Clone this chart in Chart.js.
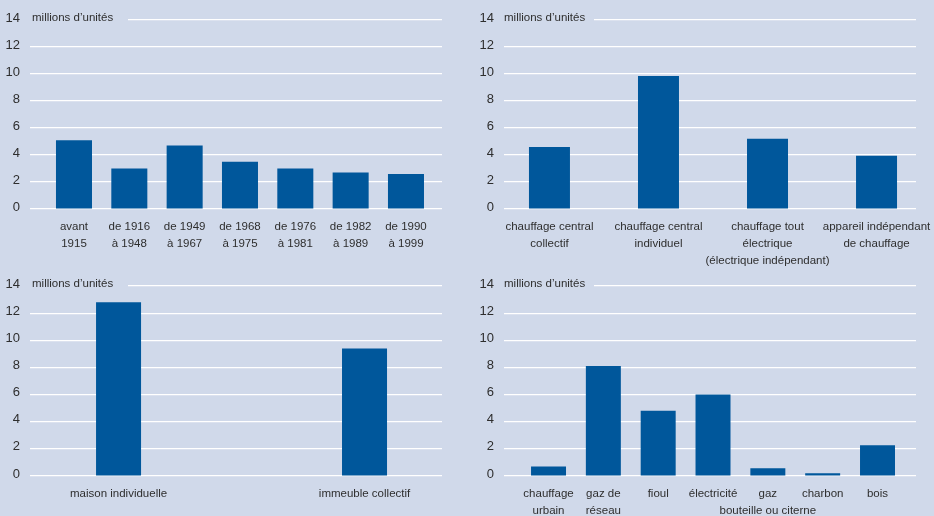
<!DOCTYPE html>
<html lang="fr">
<head>
<meta charset="utf-8">
<title>Logements</title>
<script src="https://cdn.jsdelivr.net/npm/chart.js@4.4.1/dist/chart.umd.min.js"></script>
<style>
  html, body { margin: 0; padding: 0; }
  #wrap { position: relative; width: 934px; height: 516px; background: #d0d9ea; overflow: hidden; }
  #wrap canvas { position: absolute; left: 0; top: 0; }
</style>
</head>
<body>
<div id="wrap">
  <canvas id="periodChart" width="934" height="516"></canvas>
  <canvas id="heatingChart" width="934" height="516"></canvas>
  <canvas id="buildingChart" width="934" height="516"></canvas>
  <canvas id="fuelChart" width="934" height="516"></canvas>
</div>
<script>
// Data (millions d'unités)
const unitText = "millions d\u2019unités";
const yTicks = [0, 2, 4, 6, 8, 10, 12, 14];

const periodLabels = [
  ["avant", "1915"], ["de 1916", "à 1948"], ["de 1949", "à 1967"], ["de 1968", "à 1975"],
  ["de 1976", "à 1981"], ["de 1982", "à 1989"], ["de 1990", "à 1999"]
];
const periodValues = [5.1, 3.0, 4.7, 3.5, 3.0, 2.7, 2.6];

const heatingLabels = [
  ["chauffage central", "collectif"],
  ["chauffage central", "individuel"],
  ["chauffage tout", "électrique", "(électrique indépendant)"],
  ["appareil indépendant", "de chauffage"]
];
const heatingValues = [4.6, 9.85, 5.2, 3.95];

const buildingLabels = ["maison individuelle", "immeuble collectif"];
const buildingValues = [12.8, 9.4];

const fuelLabels = [
  ["chauffage", "urbain"], ["gaz de", "réseau"], "fioul", "électricité",
  ["gaz", "bouteille ou citerne"], "charbon", "bois"
];
const fuelValues = [0.7, 8.1, 4.8, 6.0, 0.57, 0.2, 2.27];

const BG = "#d0d9ea";
const BAR = "#00579b";
const TEXT = "#2e2e2e";
const FONT = "'Liberation Sans', Arial, sans-serif";

// unit label sitting on the top gridline, with the line cut away behind it
const unitLabel = {
  id: "unitLabel",
  beforeDatasetsDraw(chart, args, opts) {
    const { ctx, chartArea } = chart;
    const y = chart.scales.y.getPixelForValue(yTicks[yTicks.length - 1]);
    ctx.save();
    ctx.fillStyle = BG;
    ctx.fillRect(chartArea.left, y - 3, opts.gap, 6);
    ctx.font = "11.5px " + FONT;
    ctx.fillStyle = TEXT;
    ctx.textBaseline = "alphabetic";
    ctx.textAlign = "left";
    ctx.fillText(unitText, chartArea.left + opts.dx, y + 1);
    ctx.restore();
  }
};

function makeChart(id, labels, values, cfg) {
  const points = values.map((v, i) => ({ x: i, y: v }));
  return new Chart(document.getElementById(id), {
    type: "bar",
    data: {
      datasets: [{
        data: points,
        backgroundColor: BAR,
        borderWidth: 0,
        categoryPercentage: 1,
        barPercentage: cfg.barPct
      }]
    },
    plugins: [unitLabel],
    options: {
      responsive: false,
      animation: false,
      events: [],
      layout: { padding: cfg.padding },
      plugins: {
        legend: { display: false },
        tooltip: { enabled: false },
        unitLabel: { gap: cfg.gap, dx: cfg.dx }
      },
      scales: {
        x: {
          type: "linear",
          bounds: "data",
          offset: false,
          min: cfg.xMin,
          max: cfg.xMax,
          grid: { display: false, drawTicks: false, offset: false },
          border: { display: false },
          afterBuildTicks: scale => { scale.ticks = labels.map((_, i) => ({ value: i })); },
          afterFit: scale => {
            scale.height = cfg.axisH;
            // labels may overhang the plot edge, keep the plot width fixed
            scale.paddingLeft = 0;
            scale.paddingRight = 0;
          },
          ticks: {
            autoSkip: false,
            maxRotation: 0,
            minRotation: 0,
            padding: 9,
            color: TEXT,
            font: { family: FONT, size: 11.5, lineHeight: 17 / 11.5 },
            callback: v => labels[v] ?? ""
          }
        },
        y: {
          min: 0,
          max: 14,
          grid: { color: "#ffffff", lineWidth: 1.2, drawTicks: false },
          border: { display: false },
          afterBuildTicks: scale => { scale.ticks = yTicks.map(v => ({ value: v })); },
          afterFit: scale => { scale.width = 30; },
          ticks: {
            padding: 10,
            labelOffset: -2,
            color: TEXT,
            font: { family: FONT, size: 13 }
          }
        }
      }
    }
  });
}

// top left : période de construction
makeChart("periodChart", periodLabels, periodValues, {
  padding: { left: 0, right: 492, top: 20, bottom: 245 }, axisH: 62,
  xMin: -0.795, xMax: 6.651, barPct: 0.651, gap: 98, dx: 2
});

// top right : mode de chauffage
makeChart("heatingChart", heatingLabels, heatingValues, {
  padding: { left: 474, right: 18, top: 20, bottom: 245 }, axisH: 62,
  xMin: -0.417, xMax: 3.362, barPct: 0.376, gap: 90, dx: 0
});

// bottom left : type de logement
makeChart("buildingChart", buildingLabels, buildingValues, {
  padding: { left: 0, right: 492, top: 286, bottom: 0 }, axisH: 40,
  xMin: -0.36, xMax: 1.315, barPct: 0.183, gap: 98, dx: 2
});

// bottom right : combustible
makeChart("fuelChart", fuelLabels, fuelValues, {
  padding: { left: 474, right: 18, top: 286, bottom: 0 }, axisH: 40,
  xMin: -0.812, xMax: 6.702, barPct: 0.638, gap: 90, dx: 0
});
</script>
</body>
</html>
